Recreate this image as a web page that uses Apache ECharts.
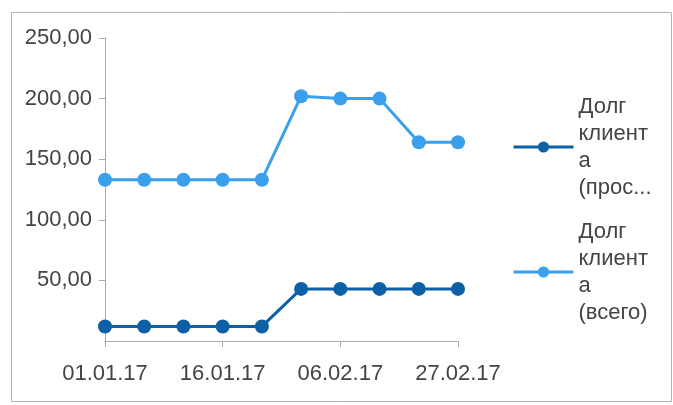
<!DOCTYPE html>
<html>
<head>
<meta charset="utf-8">
<script src="https://cdn.jsdelivr.net/npm/echarts@6/dist/echarts.min.js"></script>
<style>
  html, body { margin: 0; padding: 0; background: #fff; }
  #chart { width: 673px; height: 405px; }
</style>
</head>
<body>
<div id="chart"></div>
<script>
// данные графика
const dates = ['01.01.17', '06.01.17', '11.01.17', '16.01.17', '23.01.17',
               '30.01.17', '06.02.17', '13.02.17', '20.02.17', '27.02.17']
const overdueDebt = [12, 12, 12, 12, 12, 43, 43, 43, 43, 43]
const totalDebt = [133, 133, 133, 133, 133, 202, 200, 200, 164, 164]
const seriesNames = ['Долг клиента (просроченный)', 'Долг клиента (всего)']
const legendLabels = ['Долг\nклиент\nа\n(прос...', 'Долг\nклиент\nа\n(всего)']

const chart = echarts.init(document.getElementById('chart'))
const font = 'Arial, "Liberation Sans", sans-serif'

chart.setOption({
    animation: false,
    textStyle: { fontFamily: font },
    // рамка вокруг графика
    graphic: [{
        type: 'rect',
        shape: { x: 11.5, y: 12.5, width: 660, height: 389 },
        style: { fill: 'none', stroke: '#b4b4b4', lineWidth: 1 }
    }],
    grid: { left: 105, right: 215, top: 38, bottom: 64 },
    legend: {
        orient: 'vertical',
        left: 507,
        top: 88,
        itemWidth: 60,
        itemHeight: 14,
        itemGap: 17,
        lineStyle: { width: 3 },
        formatter: name => legendLabels[seriesNames.indexOf(name)],
        textStyle: { fontSize: 22, lineHeight: 27, color: '#444', fontFamily: font }
    },
    xAxis: {
        type: 'category',
        data: dates,
        boundaryGap: false,
        axisLine: { lineStyle: { color: '#aaa' } },
        axisTick: { interval: 2, length: 6, lineStyle: { color: '#aaa' } },
        axisLabel: { interval: 2, margin: 22, fontSize: 22, color: '#444' }
    },
    yAxis: {
        type: 'value',
        min: 0,
        max: 250,
        interval: 50,
        splitLine: { show: false },
        axisLine: { show: true, lineStyle: { color: '#aaa' } },
        axisTick: { show: true, length: 6, lineStyle: { color: '#aaa' } },
        axisLabel: {
            showMinLabel: false,
            margin: 13,
            fontSize: 22,
            color: '#444',
            formatter: v => v.toFixed(2).replace('.', ',')
        }
    },
    series: [
        {
            name: seriesNames[0],
            type: 'line',
            data: overdueDebt,
            color: '#0d5fa6',
            symbol: 'circle',
            symbolSize: 14,
            lineStyle: { width: 3 }
        },
        {
            name: seriesNames[1],
            type: 'line',
            data: totalDebt,
            color: '#3aa0ec',
            symbol: 'circle',
            symbolSize: 14,
            lineStyle: { width: 3 }
        }
    ]
})
</script>
</body>
</html>
